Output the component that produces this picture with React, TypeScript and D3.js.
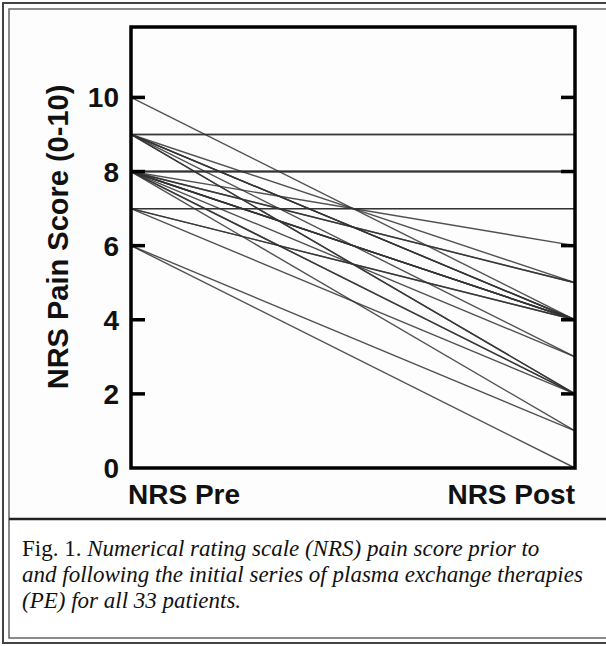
import React, { useEffect, useRef } from 'react';
import * as d3 from 'd3';

// pain scores for the 33 patients (pre / post PE)
const preScores = [10, 9, 9, 9, 9, 9, 9, 9, 9, 9, 8, 8, 8, 8, 8, 8, 8, 8, 8, 8, 8, 8, 8, 8, 8, 7, 7, 7, 7, 7, 7, 6, 6];
const postScores = [4, 9, 9, 5, 4, 4, 4, 3, 2, 2, 8, 8, 8, 8, 6, 5, 5, 4, 4, 4, 4, 3, 2, 2, 1, 7, 7, 7, 4, 4, 2, 1, 0];
const categories = ['NRS Pre', 'NRS Post'];
const yTicks = [0, 2, 4, 6, 8, 10];
const yTitle = 'NRS Pain Score (0-10)';

const W = 606;
const H = 646;

export default function App() {
  const ref = useRef<SVGSVGElement>(null);

  useEffect(() => {
    document.body.style.margin = '0';
    const svg = d3.select(ref.current);
    svg.selectAll('*').remove();

    const margin = { top: 27, right: 31, bottom: 178, left: 131 };
    const width = W - margin.left - margin.right;
    const height = H - margin.top - margin.bottom;

    const x = d3.scalePoint<string>().domain(categories).range([0, width]);
    const y = d3.scaleLinear().domain([0, 11.9]).range([height, 0]);

    // outer double border (image is cropped at right)
    const border = svg.append('g').attr('fill', 'none');
    border.append('path')
      .attr('d', `M${W + 2},3 H3 V643 H${W + 2}`)
      .attr('stroke', '#444').attr('stroke-width', 2);
    border.append('path')
      .attr('d', `M${W + 2},9 H9 V638 H${W + 2}`)
      .attr('stroke', '#666').attr('stroke-width', 1.5);

    // background of the figure panel
    svg.append('rect')
      .attr('x', 10).attr('y', 10)
      .attr('width', W - 10).attr('height', 508)
      .attr('fill', '#fdfdfd');

    // separator above the caption
    svg.append('line')
      .attr('x1', 9).attr('x2', W)
      .attr('y1', 519).attr('y2', 519)
      .attr('stroke', '#222').attr('stroke-width', 2.5);

    const g = svg.append('g')
      .attr('transform', 'translate(' + margin.left + ',' + margin.top + ')');

    // patient lines
    g.append('g')
      .selectAll('line')
      .data(preScores)
      .enter()
      .append('line')
      .attr('x1', x('NRS Pre')!)
      .attr('x2', x('NRS Post')!)
      .attr('y1', (d) => y(d))
      .attr('y2', (d, i) => y(postScores[i]))
      .attr('stroke', '#333')
      .attr('stroke-opacity', 0.85)
      .attr('stroke-width', 1.4);

    // frame
    g.append('rect')
      .attr('x', 0).attr('y', 0)
      .attr('width', width).attr('height', height)
      .attr('fill', 'none')
      .attr('stroke', '#000')
      .attr('stroke-width', 3.5);

    // inward ticks on both sides
    const ticks = yTicks.filter((t) => t > 0);
    g.append('g').selectAll('line').data(ticks).enter().append('line')
      .attr('x1', 0).attr('x2', 14)
      .attr('y1', (d) => y(d)).attr('y2', (d) => y(d))
      .attr('stroke', '#000').attr('stroke-width', 3.5);
    g.append('g').selectAll('line').data(ticks).enter().append('line')
      .attr('x1', width - 14).attr('x2', width)
      .attr('y1', (d) => y(d)).attr('y2', (d) => y(d))
      .attr('stroke', '#000').attr('stroke-width', 3.5);

    // tick labels
    g.append('g').selectAll('text').data(yTicks).enter().append('text')
      .attr('x', -12)
      .attr('y', (d) => y(d))
      .attr('dy', '0.36em')
      .attr('text-anchor', 'end')
      .style('font-family', "'Liberation Sans', Arial, sans-serif")
      .style('font-weight', 'bold')
      .style('font-size', '28px')
      .attr('fill', '#111')
      .text((d) => d);

    // y title
    svg.append('text')
      .attr('transform', 'translate(68,237) rotate(-90)')
      .attr('text-anchor', 'middle')
      .style('font-family', "'Liberation Sans', Arial, sans-serif")
      .style('font-weight', 'bold')
      .style('font-size', '29px')
      .attr('fill', '#111')
      .text(yTitle);

    // category labels
    g.append('g').selectAll('text').data(categories).enter().append('text')
      .attr('x', (d) => (d === 'NRS Pre' ? x(d)! - 3 : x(d)!))
      .attr('y', height + 36)
      .attr('text-anchor', (d) => (d === 'NRS Pre' ? 'start' : 'end'))
      .style('font-family', "'Liberation Sans', Arial, sans-serif")
      .style('font-weight', 'bold')
      .style('font-size', '28px')
      .attr('fill', '#111')
      .text((d) => d);

    // caption
    const caption = svg.append('g')
      .style('font-family', "'Liberation Serif', 'Times New Roman', serif")
      .style('font-size', '23px')
      .attr('fill', '#111');
    const l1 = caption.append('text').attr('x', 22).attr('y', 556);
    l1.append('tspan').text('Fig. 1. ');
    l1.append('tspan').style('font-style', 'italic').text('Numerical rating scale (NRS) pain score prior to');
    caption.append('text').attr('x', 22).attr('y', 582)
      .style('font-style', 'italic')
      .text('and following the initial series of plasma exchange therapies');
    caption.append('text').attr('x', 22).attr('y', 608)
      .style('font-style', 'italic')
      .text('(PE) for all 33 patients.');
  }, []);

  return (
    <svg
      ref={ref}
      width={W}
      height={H}
      style={{ position: 'absolute', left: 0, top: 0, background: '#fff' }}
    />
  );
}
